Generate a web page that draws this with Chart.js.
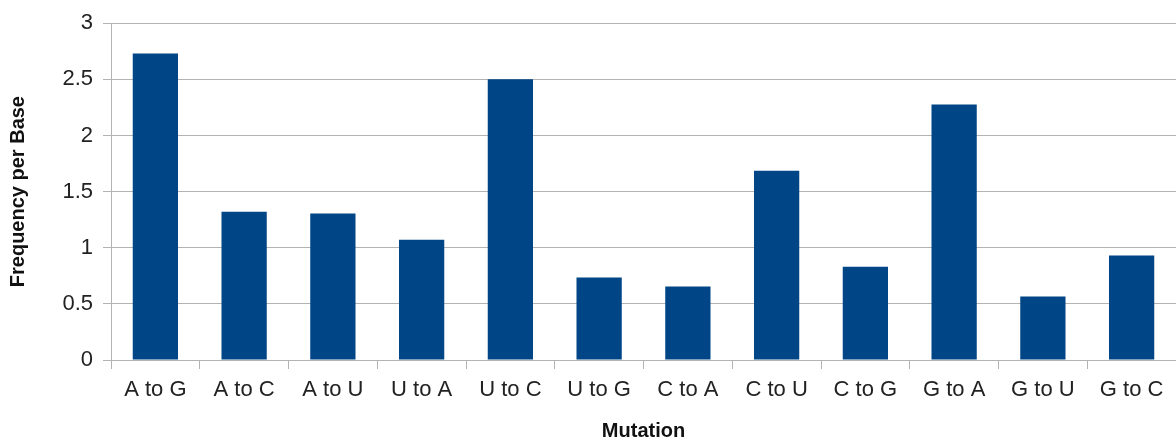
<!DOCTYPE html>
<html>
<head>
<meta charset="utf-8">
<script src="https://cdn.jsdelivr.net/npm/chart.js"></script>
<style>
  html, body { margin: 0; padding: 0; background: #fff; overflow: hidden; }
  #wrap { width: 1176px; height: 441px; }
</style>
</head>
<body>
<div id="wrap"><canvas id="chart" width="1176" height="441"></canvas></div>
<script>
// mutation types along the x axis
var mutations = ['A to G', 'A to C', 'A to U', 'U to A', 'U to C', 'U to G',
                 'C to A', 'C to U', 'C to G', 'G to A', 'G to U', 'G to C'];
// frequency per base
var frequency = [2.73, 1.32, 1.305, 1.07, 2.5, 0.735, 0.655, 1.685, 0.83, 2.275, 0.565, 0.93];
// y axis range
var yMin = 0, yMax = 3, yStep = 0.5;

var gridGrey = '#b3b3b3';
var fontFamily = '"Liberation Sans", Arial, sans-serif';

var ctx = document.getElementById('chart').getContext('2d');
new Chart(ctx, {
    type: 'bar',
    data: {
        labels: mutations,
        datasets: [{
            label: 'Frequency per Base',
            data: frequency,
            backgroundColor: '#004586',
            borderWidth: 0,
            categoryPercentage: 1,
            barPercentage: 0.51
        }]
    },
    options: {
        responsive: false,
        animation: false,
        layout: {padding: {top: 23, left: 0, right: 0, bottom: 0}},
        plugins: {legend: {display: false}, tooltip: {enabled: false}},
        scales: {
            x: {
                offset: true,
                grid: {display: true, drawOnChartArea: false, drawTicks: true, tickLength: 9, color: gridGrey, offset: true},
                border: {display: true, color: gridGrey},
                ticks: {color: '#222', padding: 8, font: {family: fontFamily, size: 22}, maxRotation: 0, autoSkip: false},
                title: {display: true, text: 'Mutation', color: '#111', padding: {top: 0, bottom: 0},
                        font: {family: fontFamily, size: 20, weight: 'bold', lineHeight: 1}},
                afterFit: function(scale) { scale.height = 81; }
            },
            y: {
                min: yMin,
                max: yMax,
                grid: {color: gridGrey, tickLength: 8, drawTicks: true},
                border: {display: true, color: gridGrey},
                ticks: {
                    stepSize: yStep, color: '#222', padding: 10, font: {family: fontFamily, size: 22},
                    callback: function(v) { return String(+v.toFixed(1)); }
                },
                title: {display: true, text: 'Frequency per Base', color: '#111', padding: {top: 8, bottom: 0},
                        font: {family: fontFamily, size: 20, weight: 'bold', lineHeight: 1}},
                afterFit: function(scale) { scale.width = 111; }
            }
        }
    }
});
</script>
</body>
</html>
